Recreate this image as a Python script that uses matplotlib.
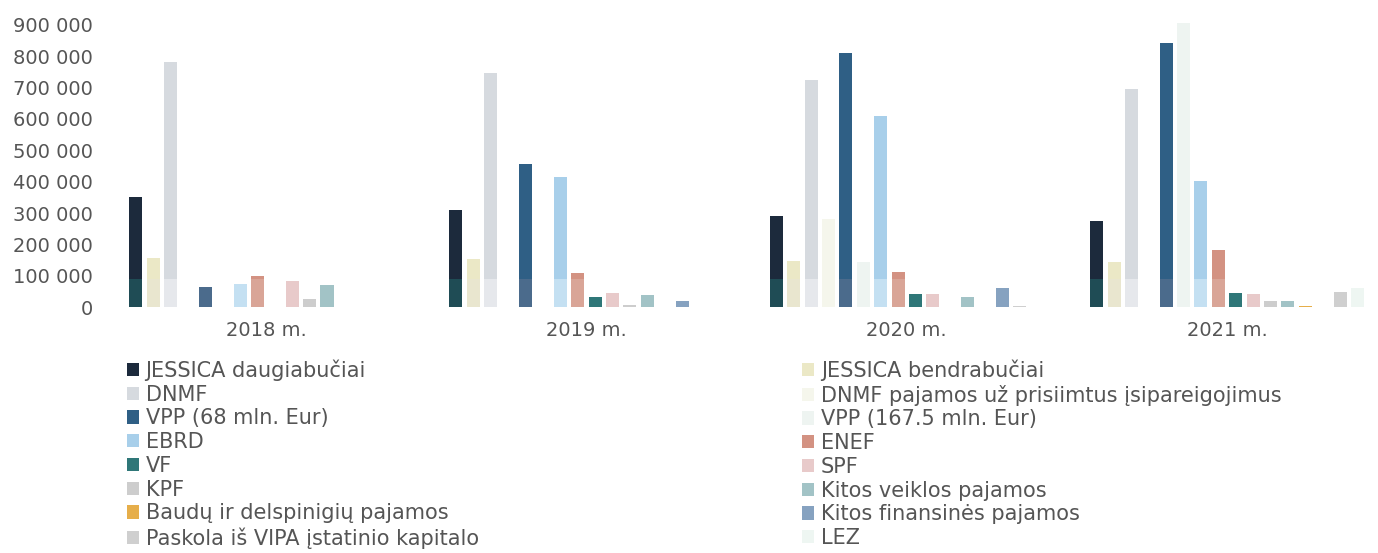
import numpy as np
import matplotlib
matplotlib.use("Agg")
import matplotlib.pyplot as plt

# categories
years = ["2018 m.", "2019 m.", "2020 m.", "2021 m."]

# series (EUR)
jessica_daug = [350000, 311000, 292000, 276000]
jessica_bendr = [156000, 152000, 146000, 143000]
dnmf = [781000, 746000, 723000, 695000]
dnmf_paj = [0, 0, 280000, 0]
vpp68 = [64000, 457000, 810000, 841000]
vpp167 = [0, 0, 143000, 905000]
ebrd = [73000, 416000, 610000, 403000]
enef = [99000, 108000, 111000, 181000]
vf = [0, 32000, 43000, 44000]
spf = [83000, 44000, 41000, 41000]
kpf = [25000, 8000, 0, 20000]
kitos_veikl = [70000, 38000, 32000, 18000]
baudu = [0, 0, 0, 3000]
kitos_fin = [0, 19000, 60000, 0]
paskola = [0, 0, 4000, 48000]
lez = [0, 0, 0, 60000]

labels = ["JESSICA daugiabučiai", "JESSICA bendrabučiai", "DNMF",
          "DNMF pajamos už prisiimtus įsipareigojimus",
          "VPP (68 mln. Eur)", "VPP (167.5 mln. Eur)", "EBRD", "ENEF",
          "VF", "SPF", "KPF", "Kitos veiklos pajamos",
          "Baudų ir delspinigių pajamos", "Kitos finansinės pajamos",
          "Paskola iš VIPA įstatinio kapitalo", "LEZ"]
series = [jessica_daug, jessica_bendr, dnmf, dnmf_paj, vpp68, vpp167, ebrd,
          enef, vf, spf, kpf, kitos_veikl, baudu, kitos_fin, paskola, lez]

colors = ["#1c2a3c", "#ebe8c6", "#d6dadf", "#f5f6ec", "#2f5f85", "#eef4f1",
          "#a8cfea", "#d39282", "#2f7778", "#e8caca", "#cdcdcd", "#a2c3c6",
          "#e6ae4a", "#86a2c0", "#cfcfcf", "#eef6f2"]
# scan artifact: the lower strip of the bars is tinted differently
lower_colors = ["#1f4c55", "#e9e6cf", "#e6e8ec", "#f5f6ec", "#4b6b8c", "#eef4f1",
                "#c4e0f2", "#d9a597", "#2f7778", "#e8caca", "#cdcdcd", "#a2c3c6",
                "#e6ae4a", "#86a2c0", "#cfcfcf", "#eef6f2"]
strip = 89000

fig = plt.figure(figsize=(13.78, 5.53), dpi=100)
ax = fig.add_axes([0.0769, 0.4448, 0.9298, 0.5384])

x = np.arange(len(years))
pitch = 0.0543
width = 0.0406
n = len(series)
handles = []
for j, vals in enumerate(series):
    pos = x + (j - (n - 1) / 2) * pitch
    vals = np.array(vals)
    b = ax.bar(pos, vals, width, color=colors[j], label=labels[j], linewidth=0)
    ax.bar(pos, np.minimum(vals, strip), width, color=lower_colors[j], linewidth=0)
    handles.append(b)

ax.set_xlim(-0.5, 3.5)
ax.set_ylim(0, 950000)
yt = np.arange(0, 900001, 100000)
ax.set_yticks(yt)
ax.set_yticklabels([f"{v:,}".replace(",", " ") for v in yt])
ax.set_xticks(x)
ax.set_xticklabels(years)
for s in ax.spines.values():
    s.set_visible(False)
ax.tick_params(axis="both", length=0, labelsize=14, colors="#555555")
ax.tick_params(axis="y", pad=9.5)
ax.tick_params(axis="x", pad=10)

# legend in two columns, filled row by row like the original
left = [handles[i] for i in range(0, n, 2)]
right = [handles[i] for i in range(1, n, 2)]
kw = dict(frameon=False, fontsize=15, handlelength=0.6, handleheight=0.6,
          handletextpad=0.3, labelspacing=0.18, borderpad=0, borderaxespad=0,
          labelcolor="#555555")
leg1 = fig.legend(left, [labels[i] for i in range(0, n, 2)], loc="upper left",
                  bbox_to_anchor=(0.092, 0.35), **kw)
leg2 = fig.legend(right, [labels[i] for i in range(1, n, 2)], loc="upper left",
                  bbox_to_anchor=(0.582, 0.35), **kw)

plt.savefig("out.png", dpi=100)
